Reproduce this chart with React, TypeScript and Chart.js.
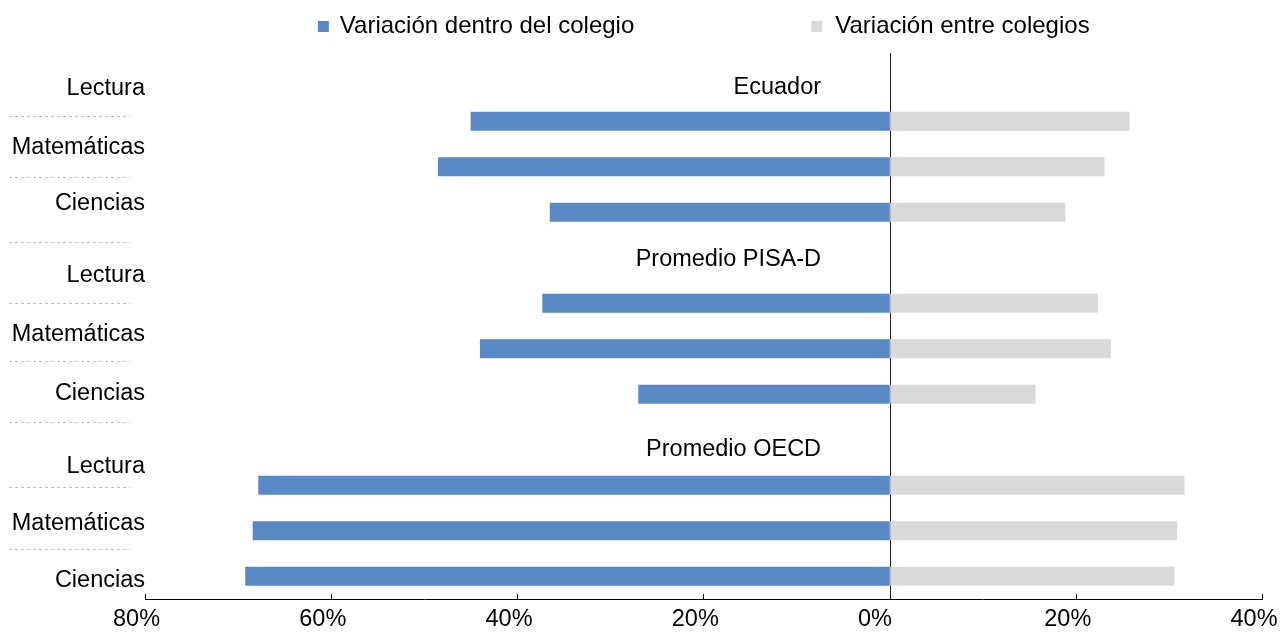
import React, { useEffect, useRef } from 'react';
import { Chart, registerables } from 'chart.js';

Chart.register(...registerables);

// ---------- data ----------
const CATEGORIES = [
  'Ecuador', 'Lectura', 'Matemáticas', 'Ciencias',
  'Promedio PISA-D', 'Lectura', 'Matemáticas', 'Ciencias',
  'Promedio OECD', 'Lectura', 'Matemáticas', 'Ciencias',
];
const WITHIN_SCHOOL = [null, -45.0, -48.5, -36.5, null, -37.3, -44.0, -27.0, null, -67.8, -68.4, -69.2];
const BETWEEN_SCHOOLS = [null, 25.7, 23.0, 18.8, null, 22.3, 23.7, 15.6, null, 31.6, 30.8, 30.5];
const SERIES_NAMES = ['Variación dentro del colegio', 'Variación entre colegios'];
const SUBJECT_LABELS = ['Lectura', 'Matemáticas', 'Ciencias', 'Lectura', 'Matemáticas', 'Ciencias', 'Lectura', 'Matemáticas', 'Ciencias'];
const GROUP_TITLES = ['Ecuador', 'Promedio PISA-D', 'Promedio OECD'];
const X_TICKS = [-80, -60, -40, -20, 0, 20, 40];

// ---------- layout (in category-row / value units) ----------
const SUBJECT_LABEL_ROWS = [0.241, 1.537, 2.768, 4.357, 5.643, 6.929, 8.539, 9.801, 11.045];
const SEPARATOR_ROWS = [0.878, 2.219, 3.647, 5.001, 6.269, 7.616, 9.032, 10.401];
const GROUP_TITLE_ROWS = [0.225, 3.995, 8.181];
const GROUP_TITLE_X = -7.4;

const BLUE = '#5A8AC6';
const GREY = '#D9D9D9';
const FAMILY = '"Liberation Sans", Arial, Helvetica, sans-serif';
const FSIZE = 23.5;
const FONT = `${FSIZE}px ${FAMILY}`;
const LEGEND_FONT = `24px ${FAMILY}`;
const TEXT_DY = 2;

const overlayPlugin = {
  id: 'overlay',
  afterDraw(chart: any) {
    const { ctx, chartArea, scales } = chart;
    const x = scales.x;
    const y = scales.y;
    const yl = scales.yl;
    ctx.save();
    // dashed separators in the label column
    ctx.strokeStyle = '#bfbfbf';
    ctx.lineWidth = 1;
    ctx.setLineDash([3, 3]);
    SEPARATOR_ROWS.forEach((r) => {
      const py = Math.round(y.getPixelForValue(r)) + 0.5;
      ctx.beginPath();
      ctx.moveTo(yl.left + 9, py);
      ctx.lineTo(yl.right - 15, py);
      ctx.stroke();
    });
    ctx.setLineDash([]);

    // group titles
    ctx.font = FONT;
    ctx.fillStyle = '#000';
    ctx.textAlign = 'right';
    ctx.textBaseline = 'middle';
    GROUP_TITLES.forEach((t, i) => {
      ctx.fillText(t, x.getPixelForValue(GROUP_TITLE_X), y.getPixelForValue(GROUP_TITLE_ROWS[i]) + TEXT_DY);
    });

    // legend
    ctx.font = LEGEND_FONT;
    const colors = chart.data.datasets.map((d: any) => d.backgroundColor);
    const w1 = ctx.measureText(SERIES_NAMES[0]).width;
    const w2 = ctx.measureText(SERIES_NAMES[1]).width;
    const boxGap1 = 22;
    const boxGap2 = 24;
    const itemGap = 177;
    const total = boxGap1 + w1 + itemGap + boxGap2 + w2;
    const cx = (chartArea.left + chartArea.right) / 2;
    let sx = cx - total / 2;
    const ly = 26;
    ctx.textAlign = 'left';
    ctx.fillStyle = colors[0];
    ctx.fillRect(sx, 21, 11, 11);
    ctx.fillStyle = '#000';
    ctx.fillText(SERIES_NAMES[0], sx + boxGap1, ly);
    sx += boxGap1 + w1 + itemGap;
    ctx.fillStyle = colors[1];
    ctx.fillRect(sx, 21, 11, 11);
    ctx.fillStyle = '#000';
    ctx.fillText(SERIES_NAMES[1], sx + boxGap2, ly);
    ctx.restore();
  },
};

export default function App() {
  const ref = useRef<HTMLCanvasElement | null>(null);

  useEffect(() => {
    document.body.style.margin = '0';
    if (!ref.current) return;
    const chart = new Chart(ref.current, {
      type: 'bar',
      data: {
        labels: CATEGORIES,
        datasets: [
          {
            label: SERIES_NAMES[0],
            data: WITHIN_SCHOOL as any,
            backgroundColor: BLUE,
            borderWidth: 0,
            barThickness: 18.5,
            grouped: false,
          } as any,
          {
            label: SERIES_NAMES[1],
            data: BETWEEN_SCHOOLS as any,
            backgroundColor: GREY,
            borderWidth: 0,
            barThickness: 18.5,
            grouped: false,
          } as any,
        ],
      },
      options: {
        indexAxis: 'y',
        responsive: false,
        animation: false,
        devicePixelRatio: 1,
        layout: { padding: { top: 53, right: 17.5, bottom: 0, left: 0 } },
        plugins: {
          legend: { display: false },
          tooltip: { enabled: false },
          title: { display: false },
        },
        scales: {
          x: {
            type: 'linear',
            position: 'bottom',
            min: -80,
            max: 40,
            afterBuildTicks: (axis: any) => {
              axis.ticks = X_TICKS.map((v) => ({ value: v }));
            },
            afterFit: (axis: any) => {
              axis.height = 33;
              axis.paddingLeft = 0;
              axis.paddingRight = 0;
            },
            grid: {
              drawOnChartArea: true,
              drawTicks: true,
              tickLength: -5,
              color: (c: any) => (c.tick && c.tick.value === 0 ? '#262626' : 'rgba(0,0,0,0)'),
              tickColor: '#000',
              lineWidth: 1,
            },
            border: { display: true, color: '#000', width: 1 },
            ticks: {
              autoSkip: false,
              maxRotation: 0,
              align: 'start',
              labelOffset: -32,
              padding: 11,
              color: '#000',
              font: { family: FAMILY, size: FSIZE },
              callback: (v: any) => `${Math.abs(Number(v))}%`,
            },
          },
          y: {
            type: 'category',
            display: false,
            offset: true,
          },
          yl: {
            type: 'linear',
            position: 'left',
            reverse: true,
            offset: false,
            beginAtZero: false,
            min: -0.5,
            max: 11.5,
            afterBuildTicks: (axis: any) => {
              axis.ticks = SUBJECT_LABEL_ROWS.map((v) => ({ value: v }));
            },
            afterFit: (axis: any) => {
              axis.width = 145;
              axis.paddingTop = 0;
              axis.paddingBottom = 0;
            },
            grid: { display: false, drawTicks: false, drawOnChartArea: false, offset: false },
            border: { display: false },
            ticks: {
              autoSkip: false,
              padding: 0,
              labelOffset: TEXT_DY,
              color: '#000',
              font: { family: FAMILY, size: FSIZE },
              callback: (_v: any, i: number) => SUBJECT_LABELS[i],
            },
          },
        } as any,
      },
      plugins: [overlayPlugin],
    });
    return () => chart.destroy();
  }, []);

  return (
    <div style={{ width: 1280, height: 632, position: 'relative', background: '#fff' }}>
      <canvas ref={ref} width={1280} height={632} style={{ display: 'block' }} />
    </div>
  );
}
